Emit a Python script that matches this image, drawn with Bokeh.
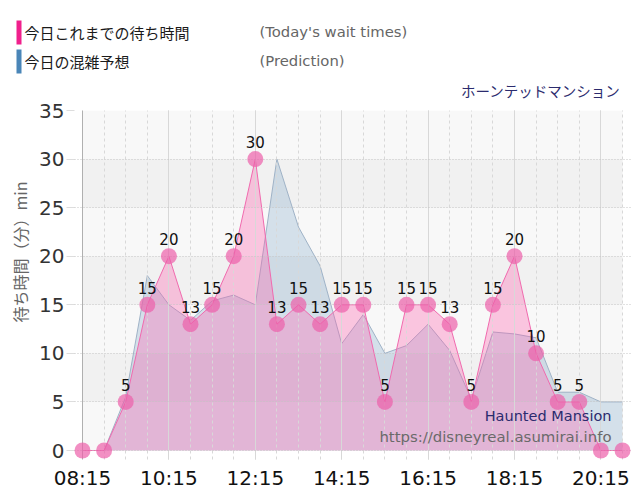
from bokeh.plotting import figure
from bokeh.layouts import column
from bokeh.models import (Range1d, FixedTicker, BoxAnnotation, Label, Span, Title)
from bokeh.embed import file_html
from bokeh.resources import INLINE

# ---- data ----
times = ["08:15", "08:45", "09:15", "09:45", "10:15", "10:45", "11:15", "11:45",
         "12:15", "12:45", "13:15", "13:45", "14:15", "14:45", "15:15", "15:45",
         "16:15", "16:45", "17:15", "17:45", "18:15", "18:45", "19:15", "19:45",
         "20:15", "20:45"]
wait_times = [0, 0, 5, 15, 20, 13, 15, 20, 30, 13, 15, 13, 15, 15, 5, 15,
              15, 13, 5, 15, 20, 10, 5, 5, 0, 0]
prediction = [0, 0, 5.5, 18, 15, 13.4, 15.4, 16, 15, 30, 23, 19, 11, 14, 10, 10.8,
              13, 10.3, 5.3, 12.2, 12, 11.6, 6, 6, 5, 5]
x_tick_labels = ["08:15", "10:15", "12:15", "14:15", "16:15", "18:15", "20:15"]
y_ticks = [0, 5, 10, 15, 20, 25, 30, 35]


def to_min(s):
    h, m = s.split(":")
    return int(h) * 60 + int(m)


xs = [to_min(t) for t in times]
x_major = [to_min(t) for t in x_tick_labels]

W, H = 640, 500
HEAD = 100
# main frame (window px): left 72, right 628, top 110, bottom 459
FL, FR, FT, FB = 72, 628, 110, 459
x0, x1 = xs[0], xs[-1]
px_per_min = (620 - 80) / (x1 - x0)
xr = Range1d(x0 - (80 - FL) / px_per_min, x1 + (FR - 620) / px_per_min)
px_per_unit = (450 - 110) / 35.0
yr = Range1d(35 - (FB - FT) / px_per_unit, 35)

# ---------- header figure ----------
h = figure(width=W, height=HEAD, output_backend="svg", toolbar_location=None,
           x_range=Range1d(0, W), y_range=Range1d(HEAD, 0),
           x_axis_location=None, y_axis_location=None,
           min_border=0, frame_width=W, frame_height=HEAD)
h.frame_align = False
h.title = None
h.outline_line_color = None
h.xgrid.visible = False
h.ygrid.visible = False


def hbar(top, bottom, color):
    h.add_layout(BoxAnnotation(left=16, right=21, top=top, bottom=bottom,
                               fill_color=color, fill_alpha=1, line_color=None))


def hlab(X, Y, text, size, color, font, align="left"):
    h.add_layout(Label(x=X, y=Y, text=text, text_font_size=size, text_color=color,
                       text_font=font, text_align=align, text_baseline="middle"))


hbar(20, 44, "#f0208c")
hbar(49, 73, "#4a86b8")
hlab(24, 32, "今日これまでの待ち時間", "15px", "#1a1a1a", "Noto Sans CJK JP")
hlab(259, 31, "(Today's wait times)", "14.8px", "#666666", "DejaVu Sans")
hlab(24, 61, "今日の混雑予想", "15px", "#1a1a1a", "Noto Sans CJK JP")
hlab(259, 60, "(Prediction)", "14.8px", "#666666", "DejaVu Sans")
hlab(620, 90, "ホーンテッドマンション", "14.5px", "#2b2b6e", "Noto Sans CJK JP", "right")

# ---------- main figure ----------
p = figure(width=W, height=H - HEAD, output_backend="svg", toolbar_location=None,
           x_range=xr, y_range=yr, frame_width=FR - FL, frame_height=FB - FT,
           min_border_left=FL, min_border_right=W - FR, min_border_top=FT - HEAD,
           min_border_bottom=H - FB)
p.frame_align = False
p.title = None
p.outline_line_color = None
p.background_fill_color = "white"
p.border_fill_color = "white"

# background bands
p.add_layout(BoxAnnotation(left=x0, right=x1, bottom=y_ticks[0], top=y_ticks[-1],
                           fill_color="#f8f8f8", fill_alpha=1, line_color=None,
                           level="underlay"))
for lo in y_ticks[1:-1:2]:
    p.add_layout(BoxAnnotation(left=x0, right=x1, bottom=lo, top=lo + 5,
                               fill_color="#f1f1f1", fill_alpha=1, line_color=None,
                               level="underlay"))

# areas
p.varea(x=xs, y1=0, y2=prediction, fill_color="#4682b4", fill_alpha=0.2)
p.line(x=xs, y=prediction, line_color="#9fb2c6", line_width=1)
p.varea(x=xs, y1=0, y2=wait_times, fill_color="#ff5fae", fill_alpha=0.33)
p.line(x=xs, y=wait_times, line_color="#f06aae", line_width=1)

# y axis line at first time
p.add_layout(Span(location=x0, dimension="height", line_color="#b0b0b0", line_width=1))

# markers and labels
r = p.scatter(x=xs, y=wait_times, size=16, fill_color="#ec5fa9", fill_alpha=0.7,
              line_color=None)
r.level = "overlay"
lx = [x for x, v in zip(xs, wait_times) if v > 0]
ly = [v for v in wait_times if v > 0]
lt = [str(v) for v in ly]
t = p.text(x=lx, y=ly, text=lt, y_offset=-17, text_align="center",
           text_baseline="middle", text_font_size="15px", text_color="#111111",
           text_font={"value": "DejaVu Sans"})
t.level = "overlay"

# axes
p.xaxis.ticker = FixedTicker(ticks=x_major, minor_ticks=xs)
p.xaxis.major_label_overrides = {m: l for m, l in zip(x_major, x_tick_labels)}
p.xaxis.axis_line_color = None
p.xaxis.major_tick_line_color = None
p.xaxis.major_tick_out = 0
p.xaxis.minor_tick_line_color = None
p.xaxis.major_label_text_font = "DejaVu Sans"
p.xaxis.major_label_text_font_size = "20px"
p.xaxis.major_label_text_color = "#111111"
p.xaxis.major_label_standoff = 2

p.yaxis.ticker = FixedTicker(ticks=y_ticks)
p.yaxis.axis_line_color = None
p.yaxis.major_tick_line_color = "#dddddd"
p.yaxis.major_tick_out = 8
p.yaxis.major_tick_in = 0
p.yaxis.minor_tick_line_color = None
p.yaxis.major_label_text_font = "DejaVu Sans"
p.yaxis.major_label_text_font_size = "20px"
p.yaxis.major_label_text_color = "#333333"
p.yaxis.major_label_standoff = 2

p.add_layout(Title(text="待ち時間（分）min", align="left", offset=137,
                   text_font_size="16px", text_color="#666666",
                   text_font="Noto Sans CJK JP", text_font_style="normal"), "left")

# grids
p.ygrid.ticker = FixedTicker(ticks=y_ticks)
p.ygrid.grid_line_color = "#c4c4c4"
p.ygrid.grid_line_dash = "1 2"
p.ygrid.level = "guide"
p.xgrid.grid_line_color = "#d8d8d8"
p.xgrid.minor_grid_line_color = "#d8d8d8"
p.xgrid.minor_grid_line_dash = "3 3"
p.xgrid.level = "guide"


def lab(X, Y, text, size, color, font, align="right"):
    p.add_layout(Label(x=X - FL, y=FB - Y, x_units="screen", y_units="screen",
                       text=text, text_font_size=size, text_color=color,
                       text_font=font, text_align=align, text_baseline="middle"))


lab(609, 415, "Haunted Mansion", "14.5px", "#2b2b6e", "DejaVu Sans")
lab(609, 436, "https://disneyreal.asumirai.info", "14.9px", "#6a6a6a", "DejaVu Sans")

layout = column(h, p, spacing=0)
open("out.html", "w").write(file_html(layout, INLINE))
